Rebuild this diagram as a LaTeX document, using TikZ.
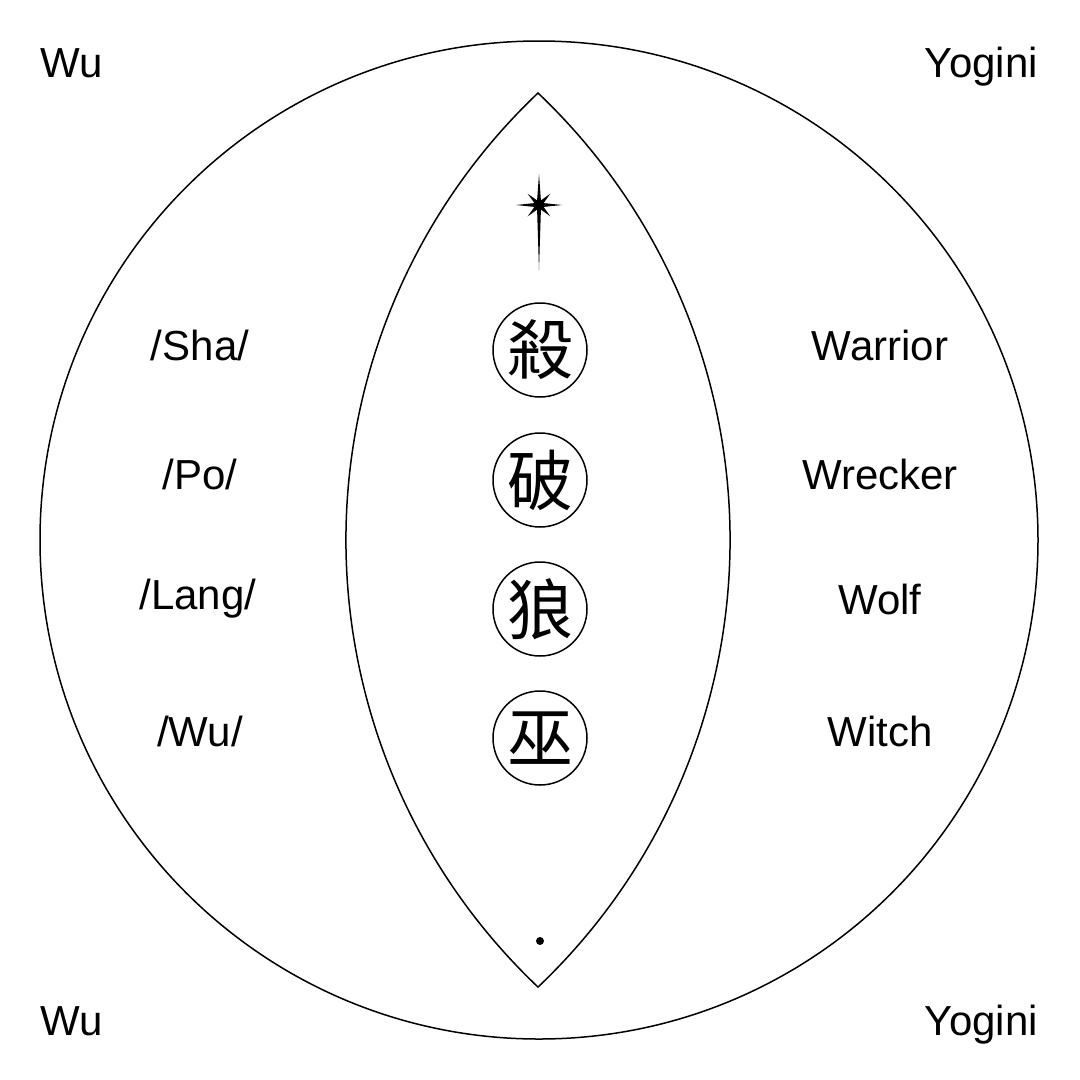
\documentclass[tikz,border=0pt]{standalone}
\usepackage{fontspec}
\setmainfont{Liberation Sans}
\newfontfamily\cjk{Noto Sans CJK TC}
\begin{document}
\begin{tikzpicture}[x=1pt,y=-1pt,
  lbl/.style={font=\fontsize{42}{48}\selectfont, inner sep=0pt, anchor=base},
  charring/.style={circle, draw, line width=1.5pt, minimum size=94pt, inner sep=0pt, font=\cjk\fontsize{66}{70}\selectfont},
  outline/.style={line width=1.5pt}]
\useasboundingbox (0,0) rectangle (1080,1080);
% outer circle
\node[circle, draw, line width=1.5pt, minimum size=998pt, inner sep=0pt] (outer) at (539,540) {};
% vesica
\coordinate (vtop) at (538,93);
\coordinate (vbot) at (538,987);
\draw[outline, line join=miter] (vtop) arc[start angle=226.5, end angle=133.5, radius=616.3]
  arc[start angle=46.5, end angle=-46.5, radius=616.3] -- cycle;
% star
\begin{scope}[shift={(539,205)}]
\fill (0:23) -- (22.5:5) -- (45:16) -- (67.5:5) -- (90:65) -- (112.5:5) -- (135:16)
  -- (157.5:5) -- (180:23) -- (202.5:5) -- (225:16) -- (247.5:5) -- (270:31)
  -- (292.5:5) -- (315:16) -- (337.5:5) -- cycle;
\fill (0,0) circle[radius=5];
\end{scope}
% dot
\fill (540,941) circle[radius=4];
% character rings
\node[charring] (c1) at (540,350) {殺};
\node[charring] (c2) at (540,480) {破};
\node[charring] (c3) at (540,609) {狼};
\node[charring] (c4) at (540,738) {巫};
% corner labels
\node[lbl, anchor=base west] (tl) at (40,77) {Wu};
\node[lbl, anchor=base east] (tr) at (1038,77) {Yogini};
\node[lbl, anchor=base west] (bl) at (40,1035) {Wu};
\node[lbl, anchor=base east] (br) at (1038,1035) {Yogini};
% left labels
\node[lbl] (l1) at (200,360) {/Sha/};
\node[lbl] (l2) at (200,489) {/Po/};
\node[lbl] (l3) at (198,609) {/Lang/};
\node[lbl] (l4) at (200,746) {/Wu/};
% right labels
\node[lbl] (r1) at (880,360) {Warrior};
\node[lbl] (r2) at (880,489) {Wrecker};
\node[lbl] (r3) at (880,614) {Wolf};
\node[lbl] (r4) at (880,746) {Witch};
\end{tikzpicture}
\end{document}
